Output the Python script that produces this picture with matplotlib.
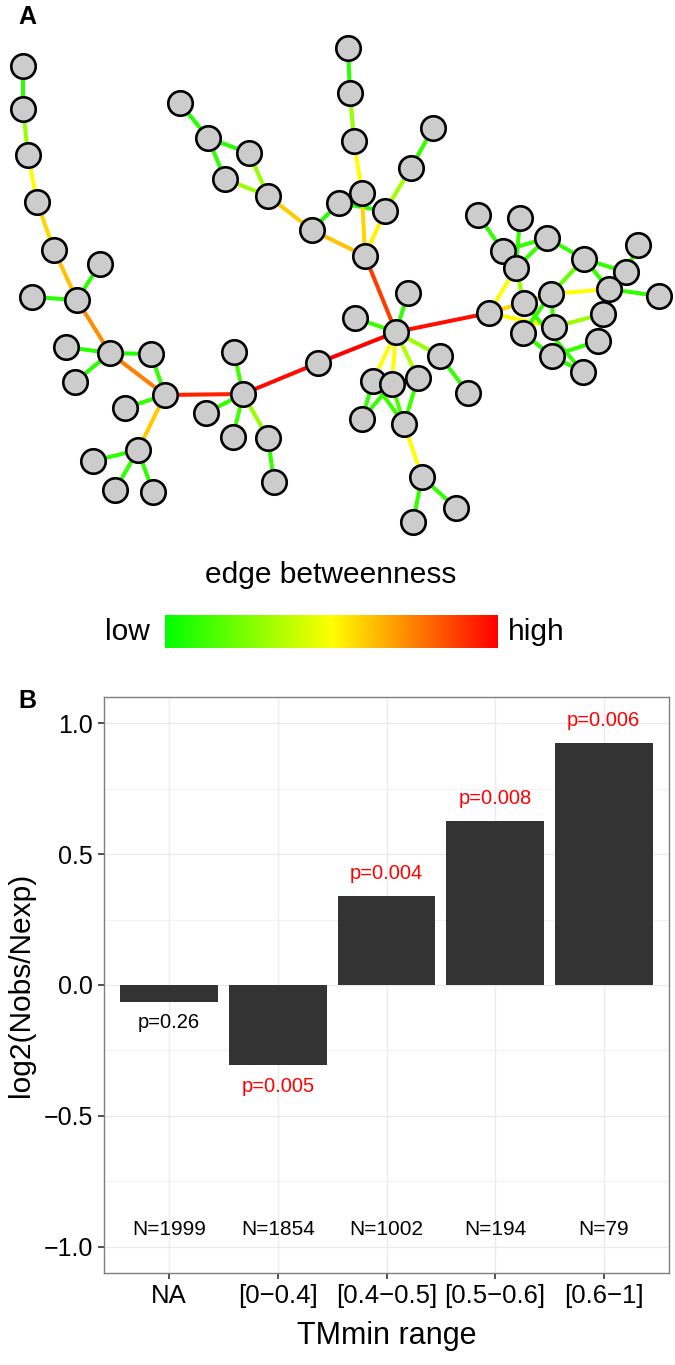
import numpy as np
import matplotlib
matplotlib.use("Agg")
import matplotlib.pyplot as plt
from matplotlib.collections import LineCollection
from matplotlib.colors import LinearSegmentedColormap

plt.rcParams['font.family'] = ['Liberation Sans', 'DejaVu Sans']

# ---------------- Panel A data: network layout ----------------
node_x = [23, 23, 28, 37, 54, 77, 100, 32, 110, 66, 75, 151, 165, 125, 138, 93, 115, 153,
          243, 234, 206, 233, 268, 274, 318, 396,
          180, 208, 249, 225, 268, 312, 339, 362, 385, 365, 348, 350, 354, 411, 433,
          408, 355, 440, 468, 373, 392, 418, 362, 404, 422, 456, 413,
          489, 478, 520, 547, 503, 516, 584, 638, 626, 609, 659, 551, 524, 603, 554, 523, 598, 552, 583]
node_y = [66, 109, 155, 202, 250, 300, 264, 297, 353, 347, 382, 354, 395, 408, 450, 461, 490, 492,
          394, 352, 413, 437, 438, 482, 363, 332,
          103, 138, 153, 179, 196, 230, 203, 193, 211, 256, 48, 93, 141, 168, 128,
          293, 318, 356, 393, 381, 384, 378, 419, 424, 477, 508, 522,
          313, 215, 218, 238, 251, 268, 259, 245, 272, 289, 296, 294, 303, 314, 327, 333, 341, 356, 372]

edge_src = [0, 1, 2, 3, 4, 5, 5, 5, 8, 8, 8, 8, 11, 12, 12, 14, 14, 14, 12, 18, 18, 18, 18, 22, 18, 24,
            26, 27, 27, 28, 29, 30, 31, 31, 32, 33, 38, 37, 36, 34, 34, 39, 35,
            25, 25, 25, 43, 25, 25, 25, 45, 46, 45, 46, 47, 49, 50, 50, 25,
            53, 53, 53, 54, 55, 56, 56, 58, 57, 56, 59, 59, 59, 60, 61, 62, 62, 64, 64, 67, 70, 70, 65, 68, 64, 66]
edge_dst = [1, 2, 3, 4, 5, 6, 7, 8, 9, 10, 11, 12, 12, 13, 14, 15, 16, 17, 18, 19, 20, 21, 22, 23, 24, 25,
            27, 28, 29, 30, 30, 31, 32, 35, 34, 35, 33, 38, 37, 35, 39, 40, 25,
            41, 42, 43, 44, 45, 46, 47, 48, 48, 49, 49, 49, 50, 51, 52, 53,
            58, 64, 67, 57, 58, 57, 58, 65, 58, 59, 61, 62, 64, 61, 62, 63, 66, 62, 67, 66, 69, 71, 71, 70, 68, 69]
edge_betweenness = [0.08, 0.30, 0.50, 0.58, 0.62, 0.08, 0.08, 0.72, 0.08, 0.08, 0.06, 0.75, 0.10, 0.10, 0.60,
                    0.08, 0.10, 0.10, 0.93, 0.12, 0.10, 0.12, 0.30, 0.10, 0.98, 1.00,
                    0.08, 0.08, 0.10, 0.30, 0.30, 0.60, 0.08, 0.62, 0.08, 0.58, 0.50, 0.30, 0.08, 0.52, 0.32, 0.10, 0.88,
                    0.10, 0.12, 0.30, 0.10, 0.50, 0.50, 0.35, 0.10, 0.10, 0.12, 0.15, 0.12, 0.50, 0.10, 0.10, 0.97,
                    0.50, 0.58, 0.50, 0.10, 0.10, 0.10, 0.12, 0.30, 0.10, 0.10, 0.10, 0.10, 0.20, 0.15, 0.10, 0.10,
                    0.10, 0.50, 0.10, 0.30, 0.10, 0.10, 0.10, 0.10, 0.10, 0.10]

legend_title = "edge betweenness"
legend_low = "low"
legend_high = "high"

# ---------------- Panel B data ----------------
categories = ["NA", "[0\u22120.4]", "[0.4\u22120.5]", "[0.5\u22120.6]", "[0.6\u22121]"]
log2_ratio = [-0.065, -0.306, 0.339, 0.627, 0.924]
p_labels = ["p=0.26", "p=0.005", "p=0.004", "p=0.008", "p=0.006"]
p_colors = ["black", "red", "red", "red", "red"]
n_labels = ["N=1999", "N=1854", "N=1002", "N=194", "N=79"]
y_ticks = [-1.0, -0.5, 0.0, 0.5, 1.0]
y_ticklabels = ["\u22121.0", "\u22120.5", "0.0", "0.5", "1.0"]

W, H = 675, 1365
fig = plt.figure(figsize=(W / 100, H / 100), dpi=100)

# ---------- Panel A ----------
topA = 680
axA = fig.add_axes([0, 1 - topA / H, 1, topA / H])
axA.set_xlim(0, W)
axA.set_ylim(topA, 0)
axA.axis('off')

cmap = LinearSegmentedColormap.from_list('gyr', ['#00FF00', '#FFFF00', '#FF0000'])
segs = [[(node_x[s], node_y[s]), (node_x[d], node_y[d])] for s, d in zip(edge_src, edge_dst)]
lc = LineCollection(segs, colors=cmap(np.array(edge_betweenness)), linewidths=2.9, zorder=1,
                    capstyle='round')
axA.add_collection(lc)
axA.scatter(node_x, node_y, s=310, facecolor='#CCCCCC', edgecolor='black', linewidths=1.9, zorder=2)

# colour legend
grad = np.linspace(0, 1, 256).reshape(1, -1)
axA.imshow(grad, cmap=cmap, aspect='auto', extent=(165, 498, 648, 615), zorder=1)
axA.text(331, 575, legend_title, ha='center', va='center', fontsize=21.5)
axA.text(150, 632, legend_low, ha='right', va='center', fontsize=21.5)
axA.text(508, 632, legend_high, ha='left', va='center', fontsize=21.5)
axA.set_xlim(0, W)
axA.set_ylim(topA, 0)

fig.text(27 / W, 1 - 17 / H, "A", ha='center', va='center', fontsize=18, fontweight='bold')
fig.text(27 / W, 1 - 701 / H, "B", ha='center', va='center', fontsize=18, fontweight='bold')

# ---------- Panel B ----------
L, R, T, B = 104, 669, 697, 1273
axB = fig.add_axes([L / W, 1 - B / H, (R - L) / W, (B - T) / H])
xpos = np.arange(len(categories))
axB.bar(xpos, log2_ratio, width=0.9, color='#333333', zorder=3)
axB.set_xlim(-0.6, len(categories) - 0.4)
axB.set_ylim(-1.1, 1.1)
axB.set_xticks(xpos)
axB.set_xticklabels(categories, fontsize=18.5)
axB.set_yticks(y_ticks)
axB.set_yticklabels(y_ticklabels, fontsize=18)
axB.set_yticks([-0.75, -0.25, 0.25, 0.75], minor=True)
axB.grid(which='major', color='#EBEBEB', linewidth=1.0, zorder=0)
axB.grid(which='minor', axis='y', color='#F2F2F2', linewidth=0.8, zorder=0)
axB.set_axisbelow(True)
for sp in axB.spines.values():
    sp.set_color('#7F7F7F')
    sp.set_linewidth(1.0)
axB.tick_params(axis='both', which='major', length=4, width=1.2, color='#333333', labelcolor='black', pad=4)
axB.tick_params(axis='both', which='minor', length=0)
axB.set_xlabel("TMmin range", fontsize=22, labelpad=9)
axB.set_ylabel("log2(Nobs/Nexp)", fontsize=21.5, labelpad=6)

for i, v in enumerate(log2_ratio):
    yl = v + 0.085 if v > 0 else v - 0.08
    axB.text(xpos[i], yl, p_labels[i], ha='center', va='center', fontsize=14.5, color=p_colors[i])
    axB.text(xpos[i], -0.935, n_labels[i], ha='center', va='center', fontsize=15, color='black')

fig.savefig("out.png", dpi=100)
